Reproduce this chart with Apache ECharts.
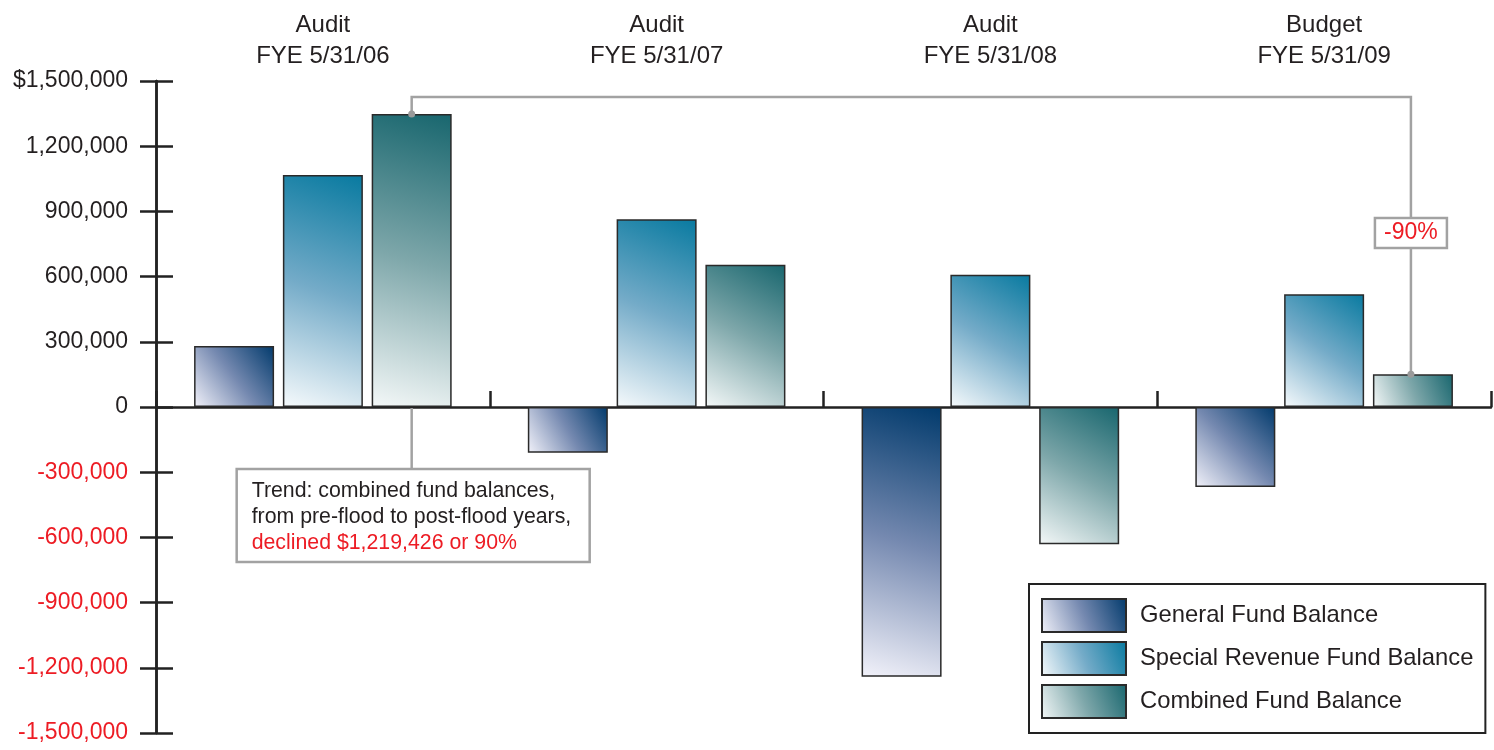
<!DOCTYPE html>
<html><head><meta charset="utf-8">
<script src="https://cdn.jsdelivr.net/npm/echarts@6/dist/echarts.min.js"></script>
<style>html,body{margin:0;padding:0;background:#fff}#c{width:1494px;height:750px}</style>
</head><body><div id="c"></div>
<script>
const categories = ['Audit\nFYE 5/31/06', 'Audit\nFYE 5/31/07', 'Audit\nFYE 5/31/08', 'Budget\nFYE 5/31/09'];
const seriesNames = ['General Fund Balance', 'Special Revenue Fund Balance', 'Combined Fund Balance'];
const generalFund = [281000, -210000, -1241000, -368000];
const specialRevenueFund = [1067000, 864000, 609000, 519000];
const combinedFund = [1348000, 654000, -632000, 151000];
const yMin = -1500000, yMax = 1500000, yStep = 300000;
const yTickLabels = ['-1,500,000', '-1,200,000', '-900,000', '-600,000', '-300,000', '0', '300,000', '600,000', '900,000', '1,200,000', '$1,500,000'];
const trendLines = ['Trend: combined fund balances,', 'from pre-flood to post-flood years,', 'declined $1,219,426 or 90%'];
const changeLabel = '-90%';

const FONT = 'Liberation Sans, Arial, sans-serif';
const INK = '#231f20', RED = '#ed1c24', GRAY = '#a2a2a2';

function grad(light, mid, dark) {
  return new echarts.graphic.LinearGradient(0, 1, 1, 0, [
    { offset: 0, color: light }, { offset: 0.5, color: mid }, { offset: 1, color: dark }
  ]);
}
const fills = [
  grad('#f2f2fa', '#7589b0', '#013a6c'),
  grad('#f6fafc', '#74abc8', '#087aa0'),
  grad('#f4f8f8', '#7ea7aa', '#18666e')
];
const values = [generalFund, specialRevenueFund, combinedFund];

const chart = echarts.init(document.getElementById('c'), null, { renderer: 'canvas' });
const option = {
  animation: false,
  backgroundColor: '#fff',
  textStyle: { fontFamily: FONT },
  grid: { left: 156, right: 3, top: 81, bottom: 17, containLabel: false },
  legend: {
    orient: 'vertical', left: 1029, top: 584,
    padding: [14, 12, 14, 12], itemGap: 8, itemWidth: 84, itemHeight: 33,
    borderColor: '#222', borderWidth: 2, backgroundColor: '#fff',
    icon: 'rect',
    textStyle: { fontFamily: FONT, fontSize: 23.8, color: INK, padding: [0, 0, 0, 9] },
    data: seriesNames
  },
  xAxis: [{
    type: 'category', data: categories, position: 'bottom',
    axisLine: { onZero: true, lineStyle: { color: '#222', width: 2.5 } },
    axisTick: { show: true, inside: true, length: 16, lineStyle: { color: '#222', width: 2.5 } },
    axisLabel: { show: false }, splitLine: { show: false }
  }, {
    type: 'category', data: categories, position: 'top',
    axisLine: { show: false }, axisTick: { show: false },
    axisLabel: { show: true, color: INK, fontSize: 24, fontFamily: FONT, lineHeight: 31, margin: 9.5 }
  }],
  yAxis: [{
    type: 'value', min: yMin, max: yMax, interval: yStep, position: 'left',
    axisLine: { show: true, lineStyle: { color: '#222', width: 2.5 } },
    axisTick: { show: true, length: 16, lineStyle: { color: '#222', width: 2.5 } },
    splitLine: { show: false },
    axisLabel: {
      margin: 28, fontFamily: FONT, fontSize: 23,
      formatter: function (v) {
        const lab = yTickLabels[Math.round((v - yMin) / yStep)];
        return v < 0 ? '{r|' + lab + '}' : '{k|' + lab + '}';
      },
      rich: { r: { color: RED, fontSize: 23, fontFamily: FONT }, k: { color: INK, fontSize: 23, fontFamily: FONT } }
    }
  }, {
    type: 'value', min: yMin, max: yMax, interval: yStep, position: 'left',
    axisLine: { show: true, lineStyle: { color: '#222', width: 2.5 } },
    axisTick: { show: true, inside: true, length: 17, lineStyle: { color: '#222', width: 2.5 } },
    axisLabel: { show: false }, splitLine: { show: false }
  }],
  series: seriesNames.map((name, i) => ({
    name: name, type: 'bar', xAxisIndex: 0, yAxisIndex: 0,
    data: values[i], barWidth: 80, barGap: '11%',
    itemStyle: { color: fills[i], borderColor: '#2a2a2a', borderWidth: 1.5 },
    emphasis: { disabled: true }
  }))
};
chart.setOption(option);

// annotations anchored to the combined bars' layout
const cData = chart.getModel().getSeriesByIndex(2).getData();
const l0 = cData.getItemLayout(0), l3 = cData.getItemLayout(3);
const x0 = l0.x + l0.width / 2, y0 = Math.min(l0.y, l0.y + l0.height);
const x3 = l3.x + l3.width / 2, y3 = Math.min(l3.y, l3.y + l3.height);
const zeroY = chart.convertToPixel({ yAxisIndex: 0 }, 0);
const yTop = y0 - 17;
const boxTop = zeroY + 62;
const pctTop = 218, pctH = 30, pctW = 72;

chart.setOption({
  graphic: [
    { type: 'polyline', z: 100, shape: { points: [[x0, y0], [x0, yTop], [x3 - 2, yTop], [x3 - 2, y3]] },
      style: { stroke: GRAY, lineWidth: 2.5, fill: null } },
    { type: 'circle', z: 101, shape: { cx: x0, cy: y0, r: 3.5 }, style: { fill: '#9a9a9a' } },
    { type: 'circle', z: 101, shape: { cx: x3 - 2, cy: y3, r: 3.5 }, style: { fill: '#9a9a9a' } },
    { type: 'rect', z: 102, shape: { x: x3 - 2 - pctW / 2, y: pctTop, width: pctW, height: pctH },
      style: { fill: '#fff', stroke: GRAY, lineWidth: 2.5 } },
    { type: 'text', z: 103, x: x3 - 2, y: pctTop + pctH / 2,
      style: { text: changeLabel, fill: RED, font: '23px ' + FONT, align: 'center', verticalAlign: 'middle' } },
    { type: 'line', z: 100, shape: { x1: x0, y1: zeroY + 1, x2: x0, y2: boxTop }, style: { stroke: GRAY, lineWidth: 2.5 } },
    { type: 'rect', z: 102, shape: { x: x0 - 175, y: boxTop, width: 353, height: 93 },
      style: { fill: '#fff', stroke: GRAY, lineWidth: 2.5 } },
    { type: 'text', z: 103, x: x0 - 160, y: boxTop + 9,
      style: {
        text: '{k|' + trendLines[0] + '}\n{k|' + trendLines[1] + '}\n{r|' + trendLines[2] + '}',
        rich: {
          k: { fill: INK, fontSize: 21.3, fontFamily: FONT, lineHeight: 26 },
          r: { fill: RED, fontSize: 21.3, fontFamily: FONT, lineHeight: 26 }
        }
      } }
  ]
});
</script></body></html>
